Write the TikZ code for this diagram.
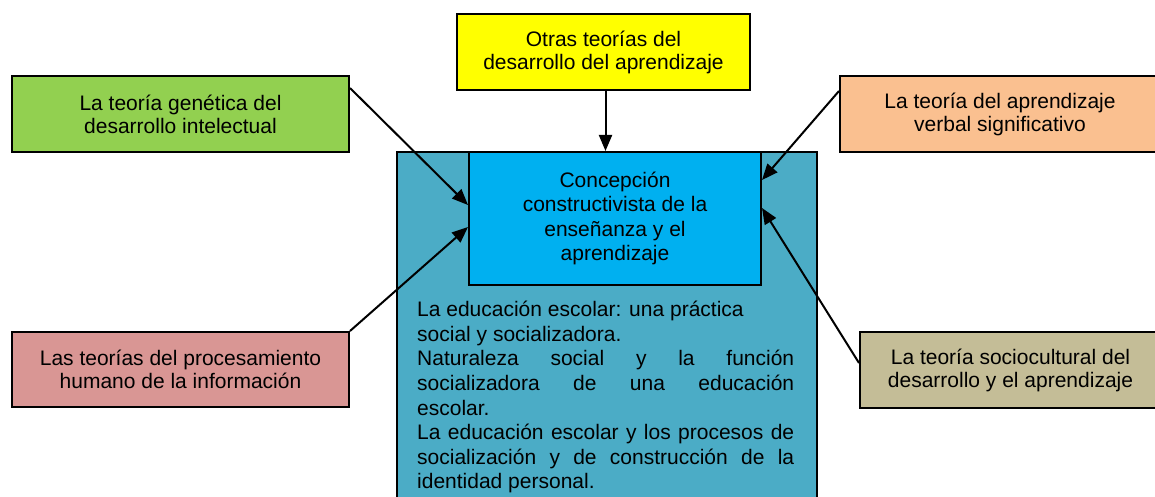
\documentclass[tikz,border=0pt]{standalone}
\usepackage{fontspec}
\setmainfont{Liberation Sans}
\usetikzlibrary{arrows.meta}

\definecolor{verde}{RGB}{146,208,80}
\definecolor{amarillo}{RGB}{255,255,0}
\definecolor{naranja}{RGB}{250,192,144}
\definecolor{rosa}{RGB}{217,150,148}
\definecolor{arena}{RGB}{196,189,151}
\definecolor{celeste}{RGB}{0,176,240}
\definecolor{turquesa}{RGB}{75,172,198}

\tikzset{
  caja/.style={rectangle, draw, line width=2pt, align=center, inner sep=0pt, anchor=north west,
    font=\fontsize{21}{23}\selectfont},
  flecha/.style={-{Triangle[length=16pt,width=13pt]}, line width=2pt}
}

\begin{document}
\begin{tikzpicture}[x=1pt,y=-1pt]
\clip (0,0) rectangle (1155,497);

% Central frame
\node[caja, fill=turquesa, minimum width=420pt, minimum height=360pt] (marco) at (396,151) {};
\node[caja, fill=celeste, minimum width=292pt, minimum height=133pt,
  font=\fontsize{21}{24.5}\selectfont] (concepcion) at (468,151) {
Concepción \\ constructivista de la \\ enseñanza y el \\ aprendizaje
};

% Text inside the frame
\node[anchor=north west, inner sep=0pt, text width=377pt, align=justify,
  font=\fontsize{21}{24.6}\selectfont] (principios) at (417,301) {\hyphenpenalty=10000\relax
La educación escolar: una práctica\\
social y socializadora.\\
Naturaleza social y la función\linebreak
socializadora de una educación\linebreak
escolar.\\
La educación escolar y los procesos de\linebreak
socialización y de construcción de la\linebreak
identidad personal.
};

% Surrounding theories
\node[caja, fill=amarillo, minimum width=293pt, minimum height=76pt] (otras) at (456,13) {
Otras teorías del \\ desarrollo del aprendizaje
};
\node[caja, fill=verde, minimum width=337pt, minimum height=76pt] (genetica) at (11,75) {
La teoría genética del \\ desarrollo intelectual
};
\node[caja, fill=rosa, minimum width=337pt, minimum height=75pt] (procesamiento) at (11,331) {
Las teorías del procesamiento \\ humano de la información
};
\node[caja, fill=naranja, minimum width=320pt, minimum height=76pt] (verbal) at (839,75) {
La teoría del aprendizaje \\ verbal significativo
};
\node[caja, fill=arena, minimum width=301pt, minimum height=76pt] (sociocultural) at (859,331) {
La teoría sociocultural del \\ desarrollo y el aprendizaje
};

% Arrows
\draw[flecha] ([xshift=2pt]otras.south) -- ([xshift=2pt]otras.south |- concepcion.north);
\draw[flecha] ([yshift=-13pt]genetica.north east) -- ([yshift=-54pt]concepcion.north west);
\draw[flecha] (procesamiento.north east) -- ([yshift=-76pt]concepcion.north west);
\draw[flecha] ([yshift=-16pt]verbal.north west) -- ([yshift=-29pt]concepcion.north east);
\draw[flecha] ([yshift=-32pt]sociocultural.north west) -- ([yshift=-57pt]concepcion.north east);

\end{tikzpicture}
\end{document}
